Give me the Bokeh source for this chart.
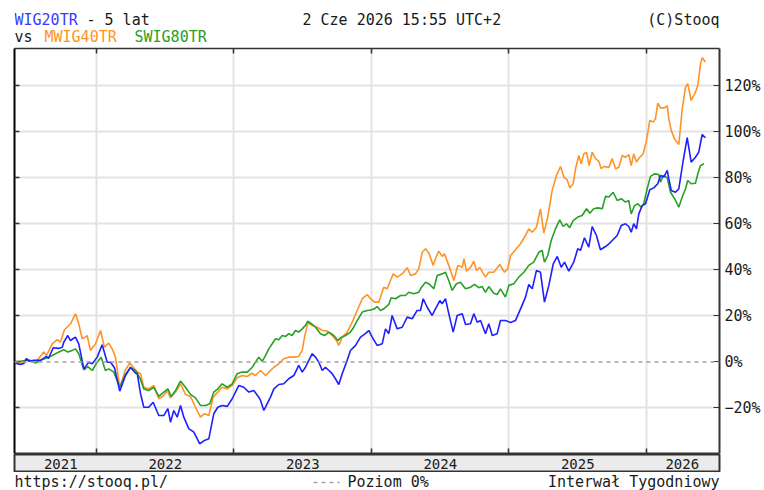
from bokeh.plotting import figure
from bokeh.layouts import column
from bokeh.models import Range1d, LinearAxis, FixedTicker, Span, CustomLabelingPolicy
from bokeh.core.properties import value
from bokeh.embed import file_html
from bokeh.resources import INLINE

# ---- data (time in decimal years, value in % change) ----
wig20_t = [2021.411, 2021.447, 2021.471, 2021.491, 2021.508, 2021.542, 2021.593, 2021.636, 2021.651, 2021.685,
           2021.724, 2021.751, 2021.762, 2021.791, 2021.811, 2021.831, 2021.847, 2021.871, 2021.908, 2021.944,
           2021.969, 2022.005, 2022.041, 2022.078, 2022.102, 2022.131, 2022.169, 2022.211, 2022.247, 2022.284,
           2022.296, 2022.320, 2022.344, 2022.380, 2022.412, 2022.453, 2022.489, 2022.519, 2022.538, 2022.562,
           2022.587, 2022.611, 2022.635, 2022.671, 2022.708, 2022.751, 2022.785, 2022.817, 2022.853, 2022.882,
           2022.914, 2022.951, 2022.987, 2023.035, 2023.071, 2023.108, 2023.144, 2023.180, 2023.193, 2023.217,
           2023.241, 2023.265, 2023.290, 2023.326, 2023.362, 2023.398, 2023.435, 2023.471, 2023.496, 2023.520,
           2023.544, 2023.569, 2023.593, 2023.617, 2023.642, 2023.665, 2023.690, 2023.714, 2023.738, 2023.762,
           2023.787, 2023.823, 2023.847, 2023.884, 2023.920, 2023.956, 2023.980, 2024.005, 2024.041, 2024.078,
           2024.102, 2024.126, 2024.150, 2024.187, 2024.223, 2024.260, 2024.296, 2024.332, 2024.356, 2024.376,
           2024.405, 2024.441, 2024.465, 2024.497, 2024.514, 2024.538, 2024.562, 2024.594, 2024.623, 2024.660,
           2024.684, 2024.720, 2024.744, 2024.769, 2024.793, 2024.829, 2024.853, 2024.878, 2024.914, 2024.938,
           2024.974, 2025.011, 2025.047, 2025.084, 2025.120, 2025.144, 2025.169, 2025.200, 2025.229, 2025.258,
           2025.290, 2025.322, 2025.351, 2025.380, 2025.404, 2025.435, 2025.471, 2025.500, 2025.520, 2025.549,
           2025.580, 2025.605, 2025.636, 2025.665, 2025.702, 2025.733, 2025.751, 2025.787, 2025.816, 2025.847,
           2025.871, 2025.889, 2025.907, 2025.927, 2025.944, 2025.969, 2025.993, 2026.024, 2026.053, 2026.082,
           2026.102, 2026.126, 2026.151, 2026.162, 2026.180, 2026.211, 2026.235, 2026.267, 2026.296, 2026.325,
           2026.356, 2026.380, 2026.405, 2026.429]
wig20_v = [-0.5, -1.1, -0.7, 1.5, 0.3, 0.7, 0.7, 2.4, 1.5, 6.2,
           5.9, 6.4, 8.6, 11.5, 9.3, 10.2, 10.8, 7.9, -3.0, -0.1,
           -0.8, 2.1, 7.5, -0.1, -0.1, -2.5, -12.7, -5.9, -2.3, -4.9,
           -5.0, -13.7, -19.7, -19.7, -17.5, -23.3, -23.3, -20.3, -26.2, -21.1,
           -24.0, -18.9, -24.0, -29.0, -30.5, -35.6, -34.1, -33.4, -22.5, -19.7,
           -18.9, -19.3, -16.0, -10.2, -11.0, -13.1, -12.4, -15.3, -16.7, -21.1,
           -18.2, -15.3, -11.7, -9.8, -9.5, -7.3, -5.9, -1.5, -4.4, -2.3,
           0.7, 3.6, 2.1, -0.1, -3.7, -2.3, -3.7, -5.1, -7.3, -9.8,
           -5.1, 0.7, 5.0, 7.2, 10.8, 12.3, 13.7, 10.8, 7.2, 7.9,
           14.4, 12.3, 20.2, 14.4, 15.1, 19.5, 18.8, 22.4, 22.4, 27.5,
           23.8, 20.2, 23.1, 26.7, 25.3, 27.5, 21.0, 13.0, 20.2, 21.0,
           16.3, 16.6, 21.0, 17.3, 18.0, 12.3, 16.6, 11.5, 12.3, 18.0,
           18.0, 17.2, 18.0, 23.1, 28.2, 33.7, 31.8, 39.8, 39.0, 26.0,
           33.3, 42.7, 45.9, 41.2, 43.4, 39.5, 43.4, 49.2, 48.5, 54.0,
           49.9, 58.9, 55.0, 48.8, 50.2, 51.7, 52.8, 55.0, 59.3, 60.1,
           58.9, 56.4, 60.1, 57.9, 64.4, 68.0, 68.8, 74.9, 75.7, 77.5,
           81.1, 80.4, 83.3, 79.7, 74.6, 73.8, 75.3, 87.6, 97.5, 86.9,
           89.0, 91.2, 98.9, 97.5]

mwig40_t = [2021.411, 2021.460, 2021.491, 2021.520, 2021.569, 2021.617, 2021.636, 2021.678, 2021.714, 2021.738,
            2021.767, 2021.811, 2021.847, 2021.871, 2021.896, 2021.920, 2021.932, 2021.956, 2021.993, 2022.029,
            2022.058, 2022.089, 2022.114, 2022.138, 2022.169, 2022.211, 2022.242, 2022.276, 2022.296, 2022.320,
            2022.344, 2022.380, 2022.417, 2022.453, 2022.489, 2022.514, 2022.538, 2022.575, 2022.611, 2022.647,
            2022.684, 2022.720, 2022.756, 2022.785, 2022.817, 2022.849, 2022.882, 2022.914, 2022.951, 2022.987,
            2023.023, 2023.060, 2023.096, 2023.132, 2023.156, 2023.193, 2023.229, 2023.253, 2023.290, 2023.326,
            2023.362, 2023.398, 2023.435, 2023.471, 2023.496, 2023.513, 2023.537, 2023.569, 2023.605, 2023.642,
            2023.678, 2023.714, 2023.745, 2023.762, 2023.787, 2023.823, 2023.860, 2023.896, 2023.933, 2023.969,
            2023.993, 2024.022, 2024.053, 2024.089, 2024.114, 2024.138, 2024.158, 2024.187, 2024.223, 2024.260,
            2024.284, 2024.320, 2024.344, 2024.369, 2024.393, 2024.417, 2024.449, 2024.465, 2024.489, 2024.514,
            2024.531, 2024.562, 2024.599, 2024.628, 2024.660, 2024.673, 2024.691, 2024.720, 2024.744, 2024.764,
            2024.788, 2024.829, 2024.853, 2024.889, 2024.933, 2024.967, 2024.991, 2025.011, 2025.047, 2025.084,
            2025.120, 2025.144, 2025.169, 2025.200, 2025.229, 2025.253, 2025.282, 2025.314, 2025.345, 2025.375,
            2025.399, 2025.423, 2025.442, 2025.467, 2025.484, 2025.508, 2025.525, 2025.544, 2025.564, 2025.583,
            2025.605, 2025.629, 2025.653, 2025.671, 2025.689, 2025.726, 2025.751, 2025.775, 2025.799, 2025.824,
            2025.847, 2025.871, 2025.889, 2025.907, 2025.927, 2025.951, 2025.976, 2026.000, 2026.024, 2026.049,
            2026.065, 2026.082, 2026.102, 2026.131, 2026.151, 2026.162, 2026.180, 2026.204, 2026.235, 2026.260,
            2026.284, 2026.300, 2026.325, 2026.356, 2026.373, 2026.393, 2026.405, 2026.429]
mwig40_v = [-0.1, -0.5, 1.4, 0.3, 0.7, 4.3, 2.8, 7.9, 9.7, 8.6,
            14.0, 16.6, 21.0, 16.6, 10.1, 10.8, 11.5, 5.0, 7.9, 13.7,
            6.4, 8.2, 5.7, 2.1, -11.0, -3.4, -0.5, -3.0, -4.4, -5.1,
            -11.0, -11.7, -10.2, -16.0, -14.6, -12.4, -15.6, -13.1, -9.5, -14.1,
            -15.0, -19.7, -24.0, -22.5, -23.3, -15.3, -13.1, -11.0, -11.7, -10.2,
            -6.9, -5.9, -6.3, -4.9, -5.9, -3.7, -5.9, -4.4, -2.3, -0.8,
            1.4, 2.1, 2.1, 2.4, 5.0, 10.8, 16.9, 15.9, 15.1, 13.7,
            13.4, 11.5, 9.3, 7.2, 10.8, 13.0, 17.3, 22.4, 27.5, 29.3,
            27.5, 26.0, 26.0, 32.5, 31.8, 35.4, 38.3, 36.9, 38.3, 41.0,
            37.6, 38.3, 40.5, 47.7, 49.2, 47.3, 42.0, 44.9, 48.2, 45.9,
            47.0, 42.0, 35.4, 42.0, 41.2, 44.9, 39.5, 41.0, 43.8, 39.8,
            41.0, 36.9, 39.0, 39.0, 42.4, 39.0, 40.5, 46.3, 48.8, 51.4,
            55.0, 57.9, 56.4, 58.6, 66.6, 56.0, 63.0, 74.6, 81.1, 85.0,
            80.4, 79.2, 75.7, 77.5, 84.0, 89.8, 86.2, 90.5, 91.1, 85.4,
            91.2, 88.4, 87.3, 84.0, 85.0, 84.6, 88.4, 84.0, 84.7, 89.8,
            89.0, 90.2, 85.4, 90.5, 86.9, 89.0, 90.5, 96.3, 105.0, 104.3,
            105.7, 112.5, 110.5, 110.5, 111.5, 105.7, 100.7, 97.0, 94.6, 110.1,
            119.5, 121.0, 113.7, 117.3, 120.2, 129.7, 132.3, 130.4]

swig80_t = [2021.411, 2021.447, 2021.484, 2021.520, 2021.556, 2021.593, 2021.641, 2021.678, 2021.726, 2021.762,
            2021.791, 2021.823, 2021.847, 2021.871, 2021.908, 2021.937, 2021.969, 2022.005, 2022.034, 2022.065,
            2022.089, 2022.126, 2022.169, 2022.211, 2022.247, 2022.284, 2022.320, 2022.344, 2022.380, 2022.417,
            2022.453, 2022.489, 2022.519, 2022.543, 2022.575, 2022.611, 2022.647, 2022.684, 2022.720, 2022.756,
            2022.793, 2022.824, 2022.853, 2022.882, 2022.914, 2022.951, 2022.987, 2023.023, 2023.060, 2023.096,
            2023.132, 2023.156, 2023.180, 2023.205, 2023.229, 2023.253, 2023.278, 2023.302, 2023.326, 2023.351,
            2023.375, 2023.398, 2023.423, 2023.447, 2023.471, 2023.496, 2023.520, 2023.537, 2023.569, 2023.593,
            2023.629, 2023.658, 2023.690, 2023.726, 2023.755, 2023.775, 2023.811, 2023.847, 2023.871, 2023.896,
            2023.933, 2023.969, 2023.993, 2024.018, 2024.041, 2024.065, 2024.089, 2024.126, 2024.143, 2024.175,
            2024.211, 2024.247, 2024.271, 2024.307, 2024.344, 2024.361, 2024.393, 2024.424, 2024.453, 2024.478,
            2024.514, 2024.538, 2024.562, 2024.587, 2024.618, 2024.647, 2024.684, 2024.720, 2024.749, 2024.780,
            2024.805, 2024.829, 2024.853, 2024.889, 2024.914, 2024.938, 2024.974, 2024.999, 2025.035, 2025.071,
            2025.108, 2025.144, 2025.180, 2025.217, 2025.241, 2025.258, 2025.282, 2025.307, 2025.338, 2025.369,
            2025.394, 2025.418, 2025.442, 2025.467, 2025.500, 2025.532, 2025.564, 2025.588, 2025.616, 2025.647,
            2025.678, 2025.702, 2025.726, 2025.758, 2025.787, 2025.816, 2025.847, 2025.871, 2025.889, 2025.913,
            2025.937, 2025.961, 2025.980, 2026.005, 2026.029, 2026.058, 2026.089, 2026.102, 2026.121, 2026.151,
            2026.175, 2026.204, 2026.235, 2026.260, 2026.284, 2026.300, 2026.325, 2026.356, 2026.373, 2026.393,
            2026.418]
swig80_v = [-0.1, 0.3, 0.7, 0.7, -0.5, 0.7, 1.8, 2.8, 4.3, 5.3,
            4.3, 5.0, 5.7, 3.6, -3.4, -2.0, -3.7, -0.1, 2.1, -3.7,
            -3.0, -4.4, -11.0, -5.4, -2.5, -3.7, -7.6, -11.7, -12.4, -11.0,
            -15.0, -13.1, -11.7, -15.0, -12.4, -8.3, -11.0, -14.1, -15.6, -18.9,
            -18.9, -18.2, -13.1, -11.7, -9.5, -11.0, -9.5, -5.1, -4.4, -4.4,
            -2.4, -0.1, 2.1, 0.3, 2.8, 5.7, 7.9, 10.1, 9.7, 11.5,
            11.1, 12.3, 11.5, 13.7, 13.0, 14.4, 15.9, 17.7, 16.3, 15.1,
            12.3, 11.5, 13.0, 11.5, 9.3, 10.5, 11.5, 13.0, 15.1, 18.0,
            21.7, 22.4, 22.6, 23.0, 24.1, 22.4, 23.1, 25.0, 27.9, 27.5,
            28.9, 28.9, 30.3, 29.7, 30.3, 32.3, 34.7, 33.7, 31.8, 37.6,
            38.3, 39.0, 35.4, 31.1, 34.0, 34.7, 31.8, 32.5, 33.7, 32.3,
            32.8, 30.3, 32.8, 29.9, 29.3, 31.8, 28.2, 33.3, 34.0, 36.9,
            39.0, 42.0, 43.4, 47.7, 48.5, 43.4, 46.3, 52.8, 57.9, 61.8,
            58.9, 60.1, 58.4, 61.5, 63.0, 63.7, 66.6, 64.7, 66.6, 67.0,
            66.6, 72.0, 71.7, 73.8, 70.2, 71.0, 69.5, 70.2, 64.4, 68.0,
            68.8, 67.3, 68.8, 75.3, 80.7, 81.8, 81.5, 78.2, 81.1, 80.1,
            73.8, 71.0, 67.3, 71.7, 75.3, 78.9, 77.5, 77.7, 81.8, 85.4,
            86.2]

year_ticks = [2022, 2023, 2024, 2025, 2026]
year_label_pos = [2021.74, 2022.5, 2023.5, 2024.5, 2025.5, 2026.26]
year_labels = ["2021", "2022", "2023", "2024", "2025", "2026"]
pct_ticks = [-20, 0, 20, 40, 60, 80, 100, 120]
grid_ticks = [-20, 20, 40, 60, 80, 100, 120]

# header / footer texts
head_text = ["WIG20TR", "- 5 lat", "2 Cze 2026 15:55 UTC+2", "(C)Stooq", "vs", "MWIG40TR", "SWIG80TR"]
foot_text = ["https://stooq.pl/", "Poziom 0%", "Interwał Tygodniowy"]

BLUE = "#1f1fff"
ORANGE = "#ff9326"
GREEN = "#27a027"
TXT = "#1a1a1a"
ZERO = "#a0a0a0"
MONO = "DejaVu Sans Mono"
W = 764
FL, FR = 14, 719          # frame left / right on canvas
HEAD_H, MAIN_H, BAND_H, FOOT_H = 46, 408, 18, 18


def bare(height, x_range, y_range, **kw):
    f = figure(width=W, height=height, output_backend="svg", toolbar_location=None,
               x_range=x_range, y_range=y_range, x_axis_location=None, y_axis_location=None,
               min_border_left=FL, min_border_right=W - FR, **kw)
    f.xgrid.visible = False
    f.ygrid.visible = False
    f.outline_line_color = None
    f.border_fill_color = "white"
    return f


def tick_only_axis(ticks, width, color):
    # axis that draws only its line and inward ticks (no labels)
    return LinearAxis(ticker=FixedTicker(ticks=ticks), major_tick_in=5, major_tick_out=0,
                      minor_tick_in=0, minor_tick_out=0, axis_line_color=color,
                      axis_line_width=width, major_tick_line_color="#333333",
                      major_tick_line_width=1.5, major_label_text_font_size="0px",
                      major_label_standoff=0,
                      major_label_policy=CustomLabelingPolicy(code="return new Set()"))


# ---- header (x in canvas pixels, frame spans FL..FR) ----
head = bare(HEAD_H, Range1d(FL, FR), Range1d(HEAD_H, 0), min_border_top=0, min_border_bottom=0)
head.text(x=[14, 86, 302, 719, 14, 44, 134], y=[19, 19, 19, 19, 36, 36, 36], text=head_text,
          text_color=["#3a3aff", TXT, TXT, TXT, TXT, ORANGE, GREEN],
          text_align=["left", "left", "left", "right", "left", "left", "left"],
          text_baseline="middle", text_font=value(MONO), text_font_size="15px")

# ---- main chart ----
p = figure(width=W, height=MAIN_H, output_backend="svg", toolbar_location=None,
           x_range=Range1d(2021.4036, 2026.531), y_range=Range1d(-39.8, 136.3),
           x_axis_location=None, y_axis_location=None,
           min_border_left=FL, min_border_right=W - FR, min_border_top=2, min_border_bottom=1)
p.outline_line_color = None
p.background_fill_color = "white"
p.border_fill_color = "white"

p.xgrid.ticker = FixedTicker(ticks=year_ticks)
p.ygrid.ticker = FixedTicker(ticks=grid_ticks)
for g in (p.xgrid, p.ygrid):
    g.grid_line_color = "#e3e3e3"
    g.grid_line_width = 2

p.add_layout(Span(location=0, dimension="width", line_color=ZERO,
                  line_width=1.5, line_dash="4 4"))

right = LinearAxis(ticker=FixedTicker(ticks=pct_ticks),
                   major_label_overrides={t: (f"{t}%" if t >= 0 else f"\u2212{-t}%") for t in pct_ticks},
                   major_tick_in=6, major_tick_out=0, minor_tick_in=0, minor_tick_out=0,
                   axis_line_color="#333333", axis_line_width=2, major_tick_line_color="#333333",
                   major_label_standoff=5, major_label_text_font=MONO,
                   major_label_text_font_size="15px", major_label_text_color=TXT)
p.add_layout(right, "right")
p.add_layout(tick_only_axis(pct_ticks, 2, "black"), "left")
p.add_layout(tick_only_axis(year_ticks, 1.5, "#333333"), "above")
p.add_layout(tick_only_axis(year_ticks, 2, "#333333"), "below")

p.line(mwig40_t, mwig40_v, line_color=ORANGE, line_width=1.6)
p.line(swig80_t, swig80_v, line_color=GREEN, line_width=1.6)
p.line(wig20_t, wig20_v, line_color=BLUE, line_width=1.6)

# ---- year band (shares the chart's x scale) ----
band = bare(BAND_H, p.x_range, Range1d(0, 1), min_border_top=0, min_border_bottom=0)
band.background_fill_color = "#ebebeb"
band.outline_line_color = "#333333"
band.outline_line_width = 2
band.text(x=year_label_pos, y=[0.5] * len(year_labels), text=year_labels,
          text_align="center", text_baseline="middle", text_color=TXT,
          text_font=value(MONO), text_font_size="14px")

# ---- footer (x in canvas pixels) ----
foot = bare(FOOT_H, Range1d(FL, FR), Range1d(FOOT_H, 0), min_border_top=0, min_border_bottom=0)
foot.segment(x0=[313], y0=[10], x1=[339], y1=[10], line_color=ZERO, line_width=1.5, line_dash="4 4")
foot.text(x=[14, 347, 719], y=[9.5, 9.5, 9.5], text=foot_text,
          text_color=TXT, text_align=["left", "left", "right"],
          text_baseline="middle", text_font=value(MONO), text_font_size="15px")

layout = column(head, p, band, foot, spacing=0)
open("out.html", "w").write(file_html(layout, INLINE))
